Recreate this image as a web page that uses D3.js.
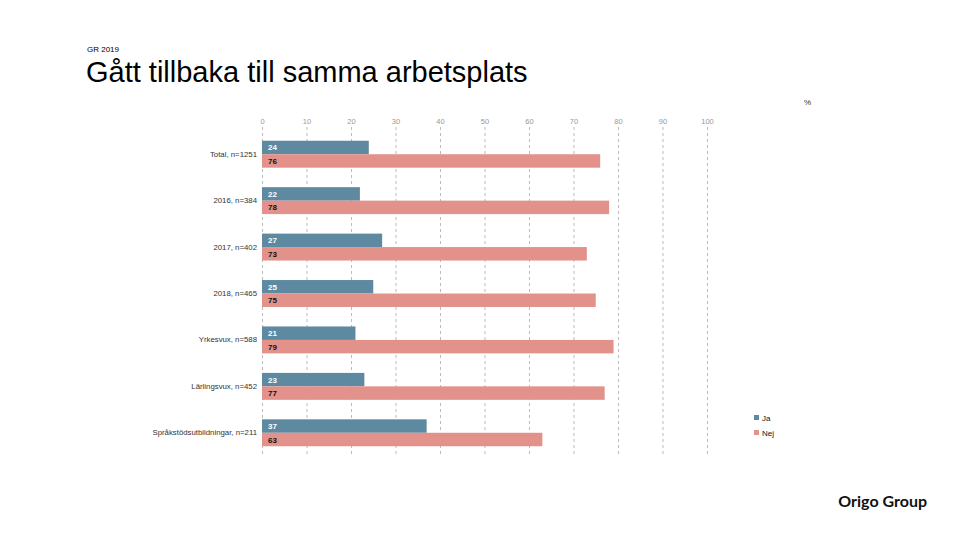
<!DOCTYPE html>
<html><head><meta charset="utf-8">
<script src="https://cdn.jsdelivr.net/npm/d3@7"></script>
<style>body{margin:0;background:#fff}svg{display:block}</style>
</head><body>
<svg id="c" width="960" height="540"></svg>
<script>
const categories = ["Total, n=1251","2016, n=384","2017, n=402","2018, n=465","Yrkesvux, n=588","Lärlingsvux, n=452","Språkstödsutbildningar, n=211"];
const jaValues  = [24,22,27,25,21,23,37];
const nejValues = [76,78,73,75,79,77,63];
const seriesNames = ["Ja","Nej"];
const seriesColors = ["#5e8aa1","#e2918b"];
const tickValues = [0,10,20,30,40,50,60,70,80,90,100];

const svg = d3.select("#c");
const font = "Liberation Sans, Arial, sans-serif";

svg.append("text").attr("x",87).attr("y",52).attr("font-family",font).attr("font-size",8).attr("fill","#000").text("GR 2019");
svg.append("text").attr("x",86).attr("y",82).attr("font-family",font).attr("font-size",29).attr("fill","#000").text("Gått tillbaka till samma arbetsplats");
svg.append("text").attr("x",804).attr("y",105).attr("font-family",font).attr("font-size",8).attr("fill","#333").text("%");

const x = d3.scaleLinear().domain([0,100]).range([262,707]);
const y = d3.scaleBand().domain(categories).range([131,456]).paddingInner(0.42).paddingOuter(0.21);
const sub = d3.scaleBand().domain(seriesNames).range([0,y.bandwidth()]);

// grid + tick labels
const xAxis = d3.axisTop(x).tickValues(tickValues).tickSize(-(455-127)).tickFormat(d3.format("d"));
const gx = svg.append("g").attr("transform","translate(0,127)").call(xAxis);
gx.select(".domain").remove();
gx.selectAll(".tick line").attr("stroke","#aaa").attr("stroke-dasharray","3,3").attr("stroke-width",0.8);
gx.selectAll(".tick text").attr("y",-3).attr("dy","0").attr("font-family",font).attr("font-size",7.5).attr("fill","#999");

// category labels
const yAxis = d3.axisLeft(y).tickSize(0).tickPadding(5);
const gy = svg.append("g").attr("transform","translate(262,0)").call(yAxis);
gy.select(".domain").remove();
gy.selectAll(".tick text").attr("font-family",font).attr("font-size",7.8).attr("fill","#333");

const rows = categories.map((c,i)=>({cat:c, vals:[{s:"Ja",v:jaValues[i]},{s:"Nej",v:nejValues[i]}]}));
const g = svg.append("g").selectAll("g").data(rows).join("g")
  .attr("transform",d=>`translate(0,${y(d.cat)})`);
g.selectAll("rect").data(d=>d.vals).join("rect")
  .attr("x",x(0)).attr("y",d=>sub(d.s)).attr("height",sub.bandwidth())
  .attr("width",d=>x(d.v)-x(0)).attr("fill",d=>seriesColors[seriesNames.indexOf(d.s)]);
g.selectAll("text.v").data(d=>d.vals).join("text").attr("class","v")
  .attr("x",x(0)+6).attr("y",d=>sub(d.s)+sub.bandwidth()/2+3)
  .attr("font-family",font).attr("font-size",8).attr("font-weight","bold")
  .attr("fill",d=>d.s==="Ja"?"#fff":"#111").text(d=>d.v);

// legend
const lg = svg.append("g").attr("transform","translate(754,414)");
seriesNames.forEach((s,i)=>{
  lg.append("rect").attr("x",0).attr("y",i*15+1).attr("width",5).attr("height",5).attr("fill",seriesColors[i]);
  lg.append("text").attr("x",8).attr("y",i*15+7).attr("font-family",font).attr("font-size",8).attr("fill","#111").text(s);
});

svg.append("text").attr("x",927).attr("y",507).attr("text-anchor","end").attr("font-family","Lato, 'Open Sans', sans-serif").attr("font-size",16).attr("font-weight","bold").attr("fill","#111").text("Origo Group");
</script>
</body></html>
